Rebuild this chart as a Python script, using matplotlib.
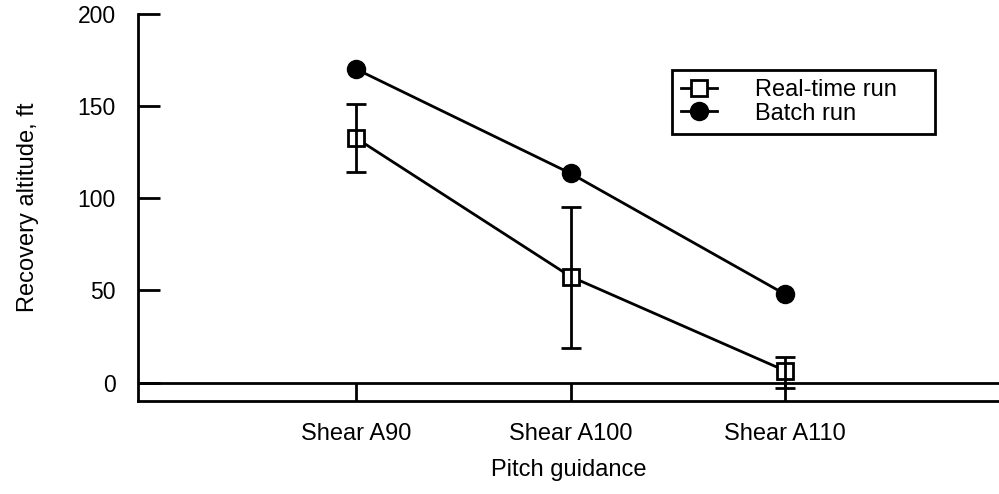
import matplotlib.pyplot as plt
from matplotlib.lines import Line2D

plt.rcParams['font.family'] = ['Liberation Sans', 'DejaVu Sans']

guidance = ['Shear A90', 'Shear A100', 'Shear A110']
realtime = [132.5, 57.5, 6.5]
realtime_hi = [151, 95, 14]
realtime_lo = [114, 19, -3]
batch = [170, 113.5, 48]

x = [1, 2, 3]
lw = 2

fig = plt.figure(figsize=(9.99, 4.94), dpi=100)
ax = fig.add_axes([138/999, 1 - 401/494, 1 - 138/999, 387/494])

# reference line at zero recovery altitude
ax.axhline(0, color='black', lw=lw, zorder=1)

ax.plot(x, batch, color='black', lw=lw, marker='o', markersize=13,
        markerfacecolor='black', zorder=3)
ax.plot(x, realtime, color='black', lw=lw, marker='s', markersize=12,
        markerfacecolor='white', markeredgewidth=lw, zorder=3)
yerr = [[r - lo for r, lo in zip(realtime, realtime_lo)],
        [hi - r for r, hi in zip(realtime, realtime_hi)]]
ax.errorbar(x, realtime, yerr=yerr, fmt='none', ecolor='black',
            elinewidth=lw, capsize=7, capthick=lw, zorder=4)

ax.set_xlim(-0.02, 4.0)
ax.set_ylim(-10, 200)
ax.set_xticks(x)
ax.set_xticklabels(guidance)
ax.set_yticks([0, 50, 100, 150, 200])

for side in ['top', 'right']:
    ax.spines[side].set_visible(False)
for side in ['left', 'bottom']:
    ax.spines[side].set_linewidth(lw)

ax.tick_params(axis='x', direction='in', length=13.2, width=lw, pad=16,
               labelsize=17)
ax.tick_params(axis='y', direction='in', length=16, width=lw, pad=16,
               labelsize=16.5)

ax.set_ylabel('Recovery altitude, ft', fontsize=17, labelpad=28)
ax.set_xlabel('Pitch guidance', fontsize=17, labelpad=10)

handles = [
    Line2D([], [], color='black', lw=lw, marker='s', markersize=12,
           markerfacecolor='white', markeredgewidth=lw),
    Line2D([], [], color='black', lw=lw, marker='o', markersize=13,
           markerfacecolor='black'),
]
leg = ax.legend(handles, ['Real-time run', 'Batch run'], loc='upper left',
                bbox_to_anchor=(672/999, 1 - 135/494, 263/999, 65/494),
                bbox_transform=fig.transFigure, mode='expand', fontsize=17,
                fancybox=False, framealpha=1, edgecolor='black',
                handlelength=1.5, handletextpad=1.6, borderpad=0.4,
                labelspacing=0.05, borderaxespad=0)
leg.get_frame().set_linewidth(lw)

fig.savefig('out.png', dpi=100)
